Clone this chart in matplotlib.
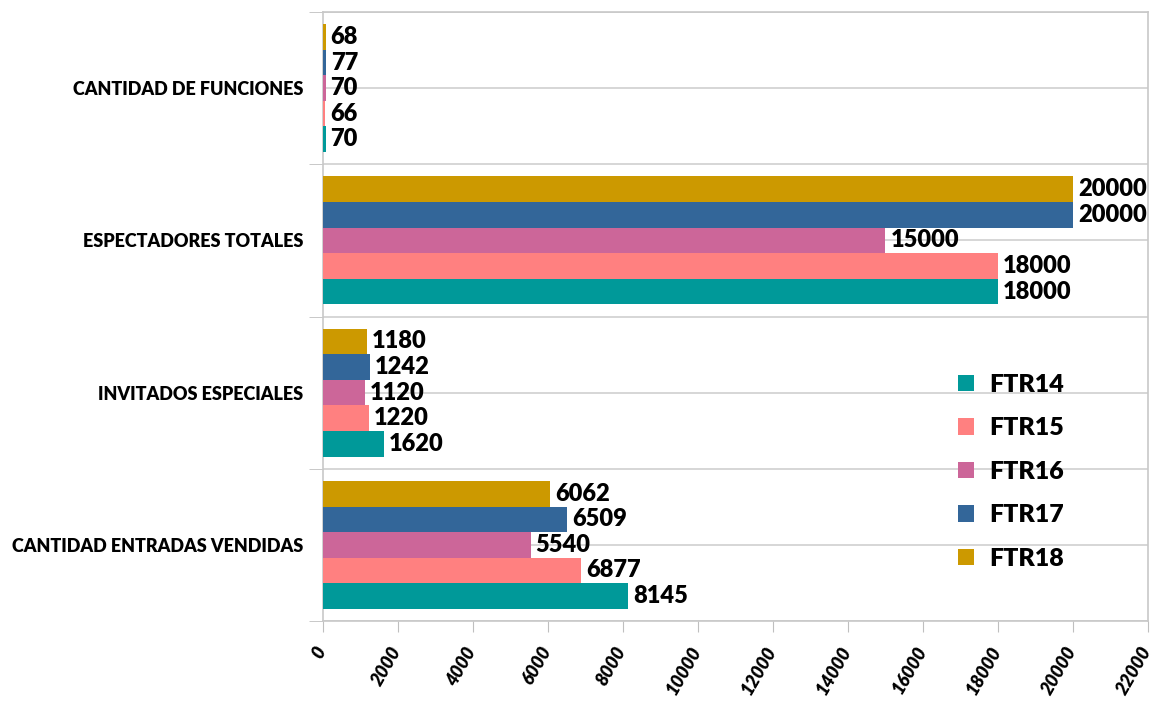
import numpy as np
import matplotlib.pyplot as plt
import matplotlib.transforms as mtransforms

categorias = ['CANTIDAD ENTRADAS VENDIDAS', 'INVITADOS ESPECIALES',
              'ESPECTADORES TOTALES', 'CANTIDAD DE FUNCIONES']
series = ['FTR14', 'FTR15', 'FTR16', 'FTR17', 'FTR18']
ftr14 = [8145, 1620, 18000, 70]
ftr15 = [6877, 1220, 18000, 66]
ftr16 = [5540, 1120, 15000, 70]
ftr17 = [6509, 1242, 20000, 77]
ftr18 = [6062, 1180, 20000, 68]
valores = [ftr14, ftr15, ftr16, ftr17, ftr18]
colores = ['#009999', '#ff8080', '#cc6699', '#336699', '#cc9900']
ticks_x = list(range(0, 22001, 2000))

plt.rcParams['font.family'] = ['Lato', 'DejaVu Sans']
peso = 'heavy'

fig = plt.figure(figsize=(11.6, 7.02), dpi=100)
ax = fig.add_axes([323 / 1160, 1 - 621 / 702, 825 / 1160, 609 / 702])

y = np.arange(len(categorias))
alto = 0.168
for i, (nombre, vals) in enumerate(zip(series, valores)):
    pos = y - 2 * alto + i * alto
    barras = ax.barh(pos, vals, height=alto, color=colores[i], label=nombre, zorder=3)
    for b, v in zip(barras, vals):
        ax.text(b.get_width() + 130, b.get_y() + alto / 2, str(v),
                va='center', ha='left', fontsize=17, fontweight=peso, zorder=4)

ax.set_xlim(0, 22000)
ax.set_ylim(-0.5, len(categorias) - 0.5)
ax.set_xticks(ticks_x)
ax.set_xticklabels([])
# etiquetas del eje x a mano, corridas un poco a la izquierda
desplaza = mtransforms.ScaledTranslation(-1 / 100, -27 / 100, fig.dpi_scale_trans)
for v in ticks_x:
    ax.text(v, 0, str(v), transform=ax.get_xaxis_transform() + desplaza,
            rotation=60, ha='right', va='center', rotation_mode='anchor',
            fontsize=13, fontweight=peso, style='italic')
ax.set_yticks(y)
ax.set_yticks(np.arange(-0.5, len(categorias), 1), minor=True)
ax.set_yticklabels(categorias, fontsize=13, fontweight=peso)
ax.tick_params(axis='y', which='major', length=0, pad=14)
ax.tick_params(axis='y', which='minor', length=10, color='#bfbfbf')
ax.tick_params(axis='x', length=8, color='#bfbfbf')

# lineas horizontales en cada media categoria
for g in np.arange(-0.5, len(categorias), 0.5):
    ax.axhline(g, color='#d0d0d0', lw=1.2, zorder=1)

for s in ax.spines.values():
    s.set_color('#c8c8c8')
    s.set_linewidth(1.2)

ley = ax.legend(loc='upper left', bbox_to_anchor=(0.742, 0.443), frameon=False,
                prop={'size': 18, 'weight': peso}, handlelength=0.65,
                handleheight=0.65, labelspacing=0.86, handletextpad=0.6)

fig.savefig('out.png', dpi=100)
